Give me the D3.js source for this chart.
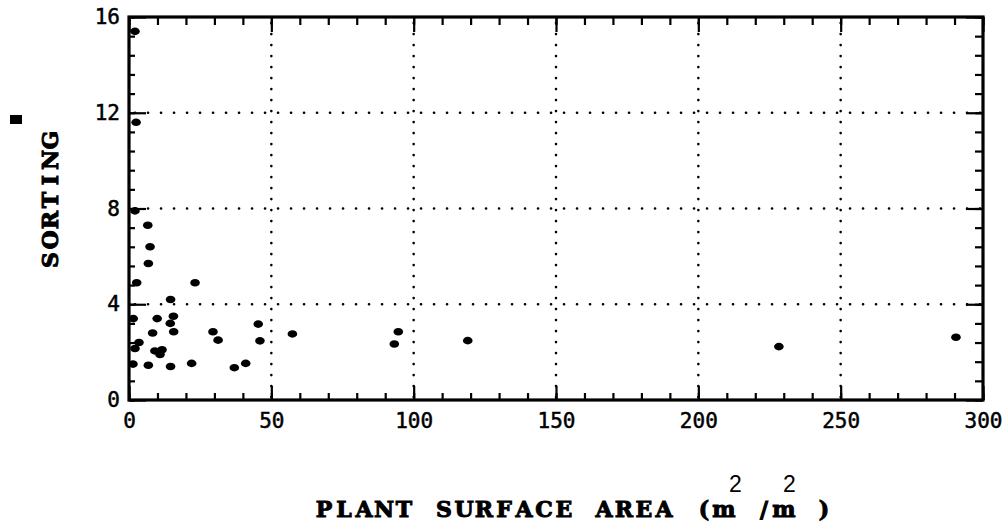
<!DOCTYPE html>
<html lang="en">
<head>
<meta charset="UTF-8" />
<title>Sorting vs plant surface area</title>
<script src="https://d3js.org/d3.v7.min.js"></script>
<style>
    body { margin: 0; background: #fff; }
    svg { display: block; }
</style>
</head>
<body>
<div id="my_chart"></div>
<script>
    // values
    var area    = [2.1, 2.5, 2.1, 6.6, 7.4, 6.8, 2.7, 23.2, 14.6, 1.5, 9.9, 15.6, 14.5, 8.3, 15.7, 3.5, 2.1, 9.1,
                   11.6, 10.9, 1.4, 6.8, 14.6, 22, 29.5, 31.3, 37, 41, 45.4, 46, 57.4, 94.6, 93.2, 119, 228.3, 290.5];
    var sorting = [15.4, 11.6, 7.9, 7.3, 6.4, 5.7, 4.9, 4.9, 4.2, 3.4, 3.4, 3.5, 3.2, 2.8, 2.85, 2.4, 2.15, 2.05,
                   2.1, 1.9, 1.5, 1.45, 1.4, 1.53, 2.85, 2.5, 1.35, 1.53, 3.17, 2.47, 2.76, 2.85, 2.34, 2.48, 2.23, 2.62];
    var xTicks = [0, 50, 100, 150, 200, 250, 300];
    var yTicks = [0, 4, 8, 12, 16];

    var W = 1008, H = 531;
    var pl = 129, pr = 983, pt = 17, pb = 400;

    var svg = d3.select("#my_chart").append("svg")
        .attr("width", W).attr("height", H);
    svg.append("rect").attr("width", W).attr("height", H).attr("fill", "#fff");

    var x = d3.scaleLinear().domain([0, 300]).range([pl, pr]);
    var y = d3.scaleLinear().domain([0, 16]).range([pb, pt]);

    // dotted grid
    svg.append("g").selectAll("line")
        .data(xTicks.slice(1, -1)).enter().append("line")
        .attr("x1", d => x(d)).attr("x2", d => x(d))
        .attr("y1", pt + 6).attr("y2", pb)
        .attr("stroke", "#000").attr("stroke-width", 2.6)
        .attr("stroke-linecap", "round").attr("stroke-dasharray", "0.1 10.9");
    svg.append("g").selectAll("line")
        .data(yTicks.slice(1, -1)).enter().append("line")
        .attr("x1", pl + 6).attr("x2", pr)
        .attr("y1", d => y(d)).attr("y2", d => y(d))
        .attr("stroke", "#000").attr("stroke-width", 2.6)
        .attr("stroke-linecap", "round").attr("stroke-dasharray", "0.1 12.9");

    var tickFont = "'DejaVu Sans Mono', monospace";
    function styleAxis(g) {
        g.select(".domain").remove();
        g.selectAll("line").attr("stroke", "#000").attr("stroke-width", 2.2);
        g.selectAll("text").attr("fill", "#000").attr("stroke", "#000").attr("stroke-width", 0.5)
            .style("font-family", tickFont).style("font-size", "21px");
    }

    var xMinor = d3.range(0, 301, 10);
    var yMinor = d3.range(0, 16.01, 0.8);

    // bottom
    svg.append("g").attr("transform", `translate(0,${pb})`)
        .call(d3.axisBottom(x).tickValues(xMinor).tickSize(-7).tickFormat("")).call(styleAxis);
    svg.append("g").attr("transform", `translate(0,${pb})`)
        .call(d3.axisBottom(x).tickValues(xTicks).tickSize(-14).tickPadding(13).tickFormat(d3.format("d")))
        .call(styleAxis);
    // top
    svg.append("g").attr("transform", `translate(0,${pt})`)
        .call(d3.axisTop(x).tickValues(xMinor).tickSize(-8).tickFormat("")).call(styleAxis);
    svg.append("g").attr("transform", `translate(0,${pt})`)
        .call(d3.axisTop(x).tickValues(xTicks).tickSize(-15).tickFormat("")).call(styleAxis);
    // left
    svg.append("g").attr("transform", `translate(${pl},0)`)
        .call(d3.axisLeft(y).tickValues(yMinor).tickSize(-6).tickFormat("")).call(styleAxis);
    svg.append("g").attr("transform", `translate(${pl},0)`)
        .call(d3.axisLeft(y).tickValues(yTicks).tickSize(-17).tickPadding(9).tickFormat(d3.format("d")))
        .call(styleAxis);
    // right
    svg.append("g").attr("transform", `translate(${pr},0)`)
        .call(d3.axisRight(y).tickValues(yMinor).tickSize(-8).tickFormat("")).call(styleAxis);
    svg.append("g").attr("transform", `translate(${pr},0)`)
        .call(d3.axisRight(y).tickValues(yTicks).tickSize(-17).tickFormat("")).call(styleAxis);

    // frame
    svg.append("rect")
        .attr("x", pl).attr("y", pt)
        .attr("width", pr - pl).attr("height", pb - pt)
        .attr("fill", "none").attr("stroke", "#000").attr("stroke-width", 3.2);

    // points
    svg.append("g").selectAll("ellipse")
        .data(area.map((a, i) => ({ a: a, s: sorting[i] })))
        .enter().append("ellipse")
        .attr("cx", d => x(d.a)).attr("cy", d => y(d.s))
        .attr("rx", 4.8).attr("ry", 3.8)
        .attr("fill", "#000");

    // axis titles, typewriter style: one character cell every 20px
    var titleFont = "'DejaVu Serif', serif";
    function pitch(str, x0, step) {
        return str.split("").map((c, i) => x0 + i * step + step / 2).join(" ");
    }
    var xTitle = "PLANT SURFACE AREA (m /m )";
    svg.append("text")
        .attr("x", pitch(xTitle, 314, 20)).attr("y", 517)
        .attr("text-anchor", "middle")
        .style("font-family", titleFont).style("font-weight", "bold")
        .style("font-size", "22px")
        .attr("fill", "#000").attr("stroke", "#000").attr("stroke-width", 1)
        .text(xTitle);
    svg.selectAll(".sup").data([735.5, 789.5]).enter().append("text")
        .attr("class", "sup")
        .attr("x", d => d).attr("y", 492).attr("text-anchor", "middle")
        .style("font-family", "'Liberation Sans', Arial, sans-serif")
        .style("font-size", "23px").attr("fill", "#000")
        .text("2");

    var yTitle = "SORTING";
    svg.append("text")
        .attr("transform", "translate(58,270) rotate(-90)")
        .attr("x", pitch(yTitle, 0, 20)).attr("y", 0)
        .attr("text-anchor", "middle")
        .style("font-family", titleFont).style("font-weight", "bold")
        .style("font-size", "22px")
        .attr("fill", "#000").attr("stroke", "#000").attr("stroke-width", 1)
        .text(yTitle);
    svg.append("rect")
        .attr("x", 10).attr("y", 115).attr("width", 12).attr("height", 9)
        .attr("fill", "#000");
</script>
</body>
</html>
